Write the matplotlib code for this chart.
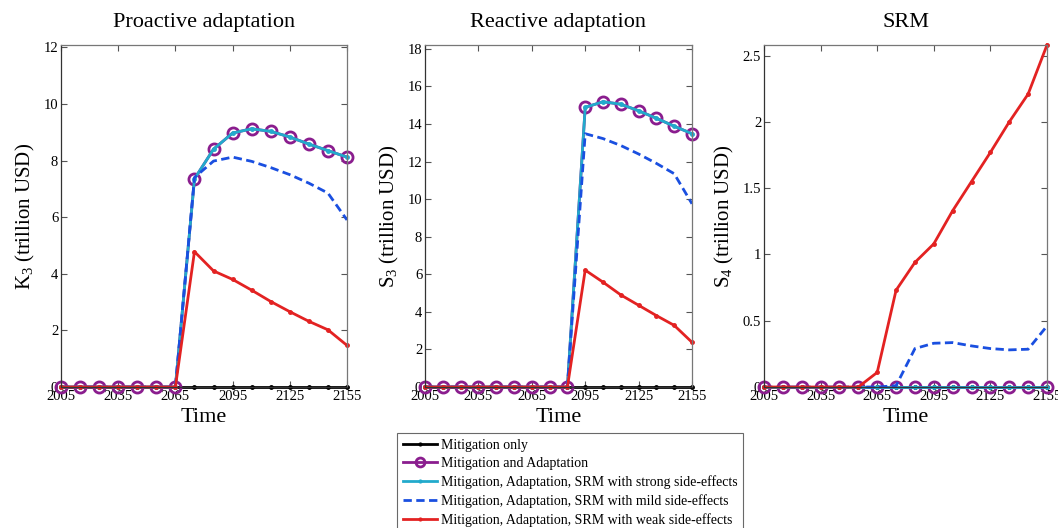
import matplotlib
matplotlib.use("Agg")
import matplotlib.pyplot as plt

plt.rcParams['font.family'] = ['Liberation Serif', 'DejaVu Serif']
plt.rcParams['mathtext.fontset'] = 'custom'
plt.rcParams['mathtext.rm'] = 'Liberation Serif'
plt.rcParams['mathtext.it'] = 'Liberation Serif'

years = [2005, 2015, 2025, 2035, 2045, 2055, 2065, 2075, 2085, 2095, 2105, 2115, 2125, 2135, 2145, 2155]
xticks = [2005, 2035, 2065, 2095, 2125, 2155]

series_labels = [
    "Mitigation only",
    "Mitigation and Adaptation",
    "Mitigation, Adaptation, SRM with strong side-effects",
    "Mitigation, Adaptation, SRM with mild side-effects",
    "Mitigation, Adaptation, SRM with weak side-effects",
]

titles = ["Proactive adaptation", "Reactive adaptation", "SRM"]
ylabels = [r"K$_3$ (trillion USD)", r"S$_3$ (trillion USD)", r"S$_4$ (trillion USD)"]

# Panel 1: K3
k3_mit = [0]*16
k3_ma = [0, 0, 0, 0, 0, 0, 0, 7.35, 8.40, 8.97, 9.12, 9.03, 8.83, 8.58, 8.35, 8.12]
k3_strong = [0, 0, 0, 0, 0, 0, 0, 7.35, 8.40, 8.97, 9.12, 9.03, 8.83, 8.58, 8.35, 8.12]
k3_mild = [0, 0, 0, 0, 0, 0, 0, 7.40, 7.98, 8.12, 7.97, 7.75, 7.50, 7.20, 6.85, 5.90]
k3_weak = [0, 0, 0, 0, 0, 0, 0, 4.78, 4.10, 3.80, 3.42, 3.02, 2.66, 2.32, 2.02, 1.47]

# Panel 2: S3
s3_mit = [0]*16
s3_ma = [0, 0, 0, 0, 0, 0, 0, 0, 0, 14.88, 15.18, 15.05, 14.70, 14.30, 13.88, 13.48]
s3_strong = [0, 0, 0, 0, 0, 0, 0, 0, 0, 14.88, 15.18, 15.05, 14.70, 14.30, 13.88, 13.48]
s3_mild = [0, 0, 0, 0, 0, 0, 0, 0, 0, 13.48, 13.22, 12.85, 12.40, 11.90, 11.35, 9.75]
s3_weak = [0, 0, 0, 0, 0, 0, 0, 0, 0, 6.22, 5.58, 4.90, 4.35, 3.80, 3.28, 2.38]

# Panel 3: S4
s4_mit = [0]*16
s4_ma = [0]*16
s4_strong = [0]*16
s4_mild = [0, 0, 0, 0, 0, 0, 0, 0.01, 0.29, 0.33, 0.335, 0.31, 0.29, 0.28, 0.285, 0.46]
s4_weak = [0, 0, 0, 0, 0, 0, 0.11, 0.73, 0.94, 1.08, 1.33, 1.55, 1.77, 2.00, 2.21, 2.58]

panels = [
    [k3_mit, k3_ma, k3_strong, k3_mild, k3_weak],
    [s3_mit, s3_ma, s3_strong, s3_mild, s3_weak],
    [s4_mit, s4_ma, s4_strong, s4_mild, s4_weak],
]
ylims = [(0, 12.08), (0, 18.2), (0, 2.58)]
yticks = [[0, 2, 4, 6, 8, 10, 12], [0, 2, 4, 6, 8, 10, 12, 14, 16, 18], [0, 0.5, 1, 1.5, 2, 2.5]]
yticklabels = [["0", "2", "4", "6", "8", "10", "12"],
               ["0", "2", "4", "6", "8", "10", "12", "14", "16", "18"],
               ["0", "0.5", "1", "1.5", "2", "2.5"]]

styles = [
    dict(color="black", lw=2.0, marker='.', ms=5),
    dict(color="#8a1d8e", lw=2.0, marker='o', ms=8, mfc='none', mew=2.0),
    dict(color="#22aacc", lw=2.0, marker='.', ms=5),
    dict(color="#1a4fe0", lw=2.0, ls=(0, (3, 1.6))),
    dict(color="#e32222", lw=2.0, marker='.', ms=5),
]

W, H = 1058, 528
fig = plt.figure(figsize=(W/100, H/100), dpi=100)
boxes = [(61, 347), (425, 692), (764, 1047)]
top, bottom = 45, 387

handles = []
for i, (l, r) in enumerate(boxes):
    ax = fig.add_axes([l/W, 1 - bottom/H, (r-l)/W, (bottom-top)/H])
    hs = []
    for data, st, lab in zip(panels[i], styles, series_labels):
        h, = ax.plot(years, data, label=lab, clip_on=False, **st)
        hs.append(h)
    if i == 0:
        handles = hs
    ax.set_xlim(2005, 2155)
    ax.set_ylim(*ylims[i])
    ax.set_xticks(xticks)
    ax.set_xticklabels([str(t) for t in xticks])
    ax.set_yticks(yticks[i])
    ax.set_yticklabels(yticklabels[i])
    ax.tick_params(direction='in', top=True, right=True, labelsize=10.5,
                   length=4, width=0.8, color='#555555')
    ax.tick_params(axis='x', pad=2.5)
    ax.tick_params(axis='y', pad=2)
    for s in ax.spines.values():
        s.set_color('#777777')
        s.set_linewidth(0.9)
    ax.spines['left'].set_color('#333333')
    ax.spines['bottom'].set_color('#333333')
    ax.set_title(titles[i], fontsize=16, pad=13)
    ax.set_xlabel("Time", fontsize=16, labelpad=3)
    ax.set_ylabel(ylabels[i], fontsize=15, labelpad=5)

leg = fig.legend(handles=handles, labels=series_labels, loc='upper left',
                 bbox_to_anchor=(397/W, 1 - 433/H), fontsize=10,
                 frameon=True, fancybox=False, edgecolor='#444444',
                 handlelength=2.5, handletextpad=0.25, labelspacing=0.38,
                 borderpad=0.4, borderaxespad=0, markerscale=0.8)
leg.get_frame().set_linewidth(0.8)

fig.savefig("out.png", dpi=100)
